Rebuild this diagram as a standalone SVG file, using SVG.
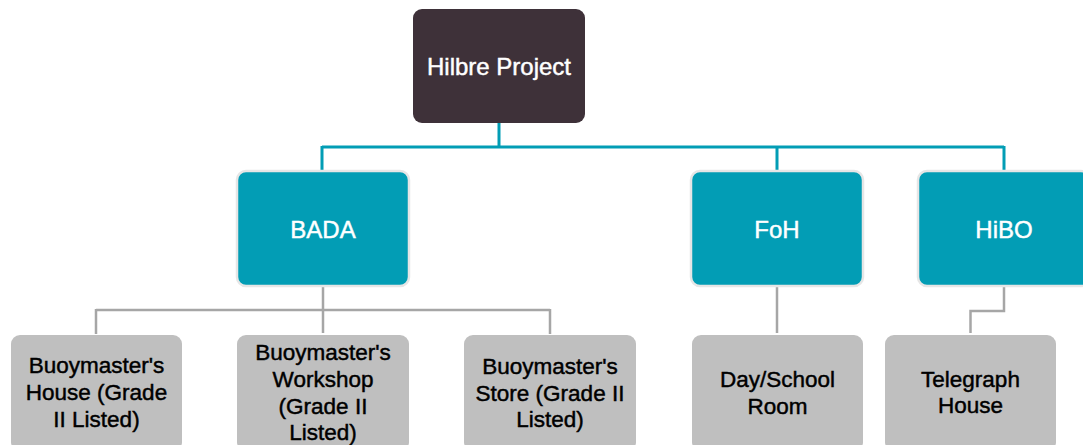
<svg xmlns="http://www.w3.org/2000/svg" width="1083" height="445" viewBox="0 0 1083 445">
  <style>
    .root { fill: #3e3139; }
    .unit { fill: #029db5; stroke: #e6e6e6; stroke-width: 2.5; }
    .site { fill: #bfbfbf; }
    .lbl-w { font-family: "Liberation Sans", Arial, sans-serif; font-size: 24px; fill: #ffffff; stroke: #ffffff; stroke-width: 0.45; text-anchor: middle; }
    .lbl-k { font-family: "Liberation Sans", Arial, sans-serif; font-size: 22.5px; fill: #000000; stroke: #000000; stroke-width: 0.45; text-anchor: middle; }
    .edge-top { fill: none; stroke: #029db5; stroke-width: 3; }
    .edge-low { fill: none; stroke: #a6a6a6; stroke-width: 2.5; }
  </style>

  <rect width="1083" height="445" fill="#ffffff"/>

  <!-- connectors -->
  <g id="connectors">
    <path class="edge-top" d="M499,123 V147 M322,147 H1004 M322,146 V171 M777,146 V171 M1004,146 V171"/>
    <path class="edge-low" d="M323,287 V333 M96,310 H550 M96,309 V334 M550,309 V334"/>
    <path class="edge-low" d="M777,287 V333"/>
    <path class="edge-low" d="M1004,287 V311 H970.5 V333"/>
  </g>

  <!-- root -->
  <g id="hilbre-project">
    <rect class="root" x="413" y="9" width="172" height="114" rx="9"/>
    <text class="lbl-w" x="499" y="75">Hilbre Project</text>
  </g>

  <!-- second tier -->
  <g id="bada">
    <rect class="unit" x="237" y="171" width="172" height="115" rx="9"/>
    <text class="lbl-w" x="323" y="238">BADA</text>
  </g>
  <g id="foh">
    <rect class="unit" x="691" y="171" width="172" height="115" rx="9"/>
    <text class="lbl-w" x="777" y="238">FoH</text>
  </g>
  <g id="hibo">
    <rect class="unit" x="918" y="171" width="172" height="115" rx="9"/>
    <text class="lbl-w" x="1004" y="238">HiBO</text>
  </g>

  <!-- third tier -->
  <g id="buoymasters-house">
    <rect class="site" x="11" y="335" width="171" height="116" rx="9"/>
    <text class="lbl-k" x="96.5" y="373">Buoymaster's</text>
    <text class="lbl-k" x="96.5" y="400">House (Grade</text>
    <text class="lbl-k" x="96.5" y="426.5">II Listed)</text>
  </g>
  <g id="buoymasters-workshop">
    <rect class="site" x="237" y="335" width="172" height="116" rx="9"/>
    <text class="lbl-k" x="323" y="359.5">Buoymaster's</text>
    <text class="lbl-k" x="323" y="386.5">Workshop</text>
    <text class="lbl-k" x="323" y="413.5">(Grade II</text>
    <text class="lbl-k" x="323" y="440">Listed)</text>
  </g>
  <g id="buoymasters-store">
    <rect class="site" x="464" y="335" width="172" height="116" rx="9"/>
    <text class="lbl-k" x="550" y="373.5">Buoymaster's</text>
    <text class="lbl-k" x="550" y="400.5">Store (Grade II</text>
    <text class="lbl-k" x="550" y="427">Listed)</text>
  </g>
  <g id="day-school-room">
    <rect class="site" x="692" y="335" width="171" height="116" rx="9"/>
    <text class="lbl-k" x="777.5" y="387">Day/School</text>
    <text class="lbl-k" x="777.5" y="414">Room</text>
  </g>
  <g id="telegraph-house">
    <rect class="site" x="885" y="335" width="171" height="116" rx="9"/>
    <text class="lbl-k" x="970.5" y="386.5">Telegraph</text>
    <text class="lbl-k" x="970.5" y="413">House</text>
  </g>
</svg>
